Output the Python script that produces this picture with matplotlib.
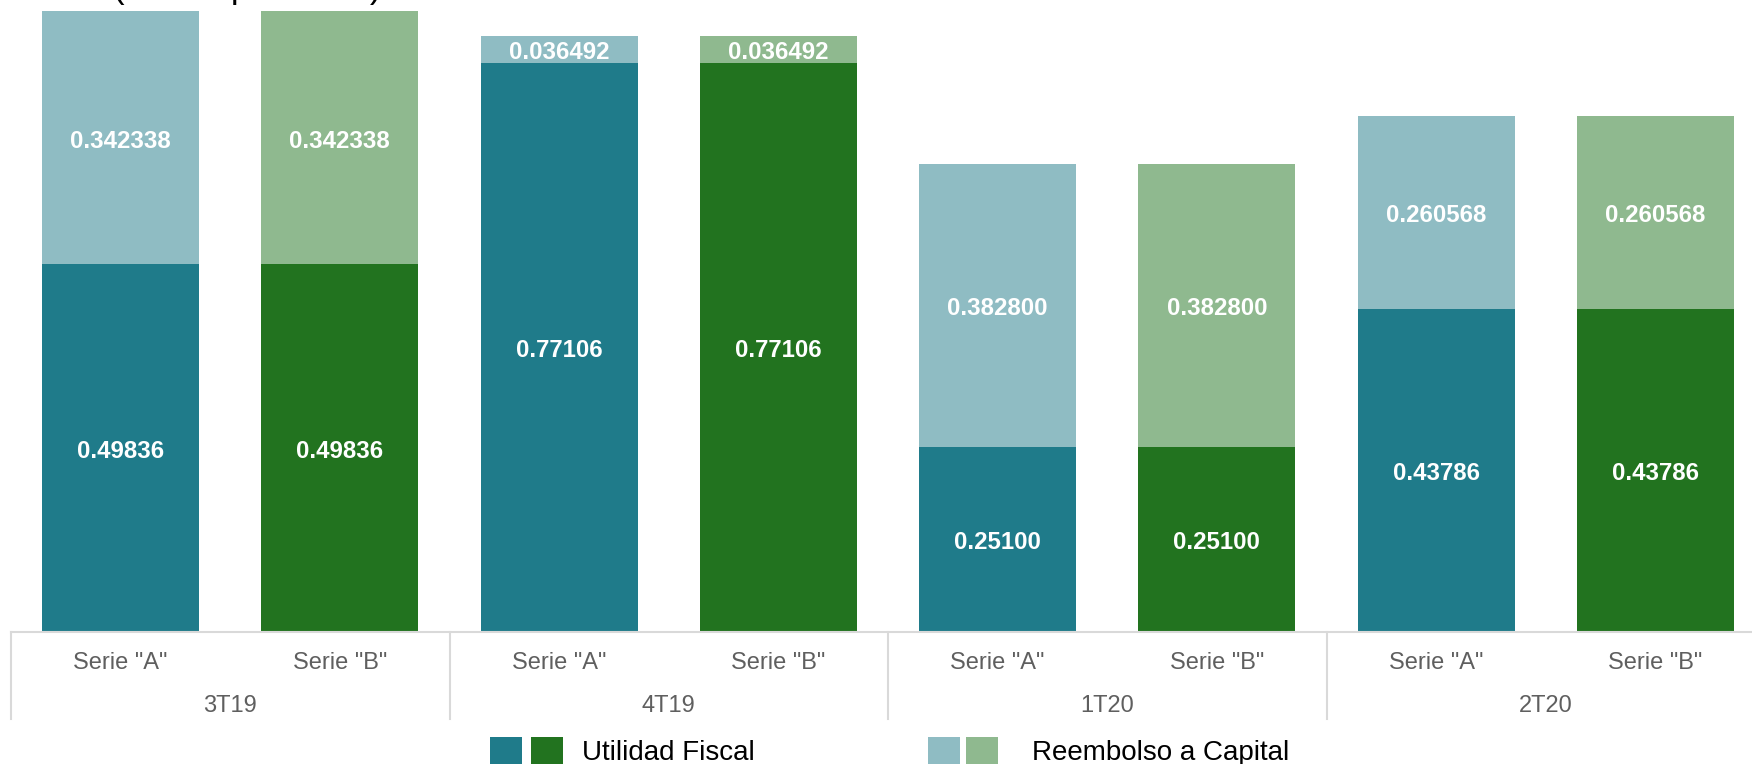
import matplotlib
matplotlib.use("Agg")
from matplotlib import pyplot as plt
from matplotlib.patches import Rectangle
import matplotlib.transforms as mtransforms
import numpy as np

plt.rcParams['font.family'] = ['Liberation Sans', 'DejaVu Sans']

# data
periods = ["3T19", "4T19", "1T20", "2T20"]
series = ['Serie "A"', 'Serie "B"']
utilidad = [0.49836, 0.77106, 0.25100, 0.43786]
reembolso = [0.342338, 0.036492, 0.382800, 0.260568]
utilidad_labels = ["0.49836", "0.77106", "0.25100", "0.43786"]
reembolso_labels = ["0.342338", "0.036492", "0.382800", "0.260568"]

dark_colors = ["#1F7B8A", "#22731F"]
light_colors = ["#8FBCC3", "#8FB98F"]

W, H = 1752, 764
fig = plt.figure(figsize=(W / 100, H / 100), dpi=100)

# axes placed in pixels: baseline at y=632, left edge x=11, 219.25 px per bar slot
ax = fig.add_axes([11 / W, (H - 632) / H, 1754 / W, 632 / H])
ax.set_xlim(-0.5, 7.5)
ax.set_ylim(0, 632 / 738.5)

# labels sit a few pixels below the segment middle
label_shift = mtransforms.offset_copy(ax.transData, fig=fig, x=0, y=-3.5, units='dots')

bar_w = 0.716
for g in range(len(periods)):
    for s in range(len(series)):
        x = g * 2 + s
        u = utilidad[g]
        r = reembolso[g]
        ax.bar(x, u, width=bar_w, color=dark_colors[s], linewidth=0)
        ax.bar(x, r, bottom=u, width=bar_w, color=light_colors[s], linewidth=0)
        ax.text(x, u / 2, utilidad_labels[g], ha='center', va='center',
                color='white', fontsize=17.3, fontweight='bold', transform=label_shift)
        ax.text(x, u + r / 2, reembolso_labels[g], ha='center', va='center',
                color='white', fontsize=17.3, fontweight='bold', transform=label_shift)

for side in ['top', 'right', 'left', 'bottom']:
    ax.spines[side].set_visible(False)
ax.set_xticks([])
ax.set_yticks([])

# category axis drawn by hand (two levels)
trans = mtransforms.blended_transform_factory(ax.transData, ax.transAxes)
ax.plot([-0.5, 7.5], [0, 0], transform=trans, color='#D9D9D9', lw=1.5, clip_on=False)
for xb in [-0.5, 1.5, 3.5, 5.5]:
    ax.plot([xb, xb], [0, -0.137], transform=trans, color='#D9D9D9', lw=1.5, clip_on=False)

for g, p in enumerate(periods):
    for s, name in enumerate(series):
        ax.text(g * 2 + s, -0.0495, name, transform=trans, ha='center', va='center',
                color='#5F5F5F', fontsize=17)
    ax.text(g * 2 + 0.5, -0.1175, p, transform=trans, ha='center', va='center',
            color='#5F5F5F', fontsize=17)

# legend at bottom
def square(x0, color):
    fig.patches.append(Rectangle((x0 / W, (H - 769) / H), 32 / W, 32 / H,
                                 transform=fig.transFigure, color=color, lw=0))

square(490, dark_colors[0])
square(531, dark_colors[1])
fig.text(582 / W, (H - 760) / H, "Utilidad Fiscal", fontsize=20, color='black', va='baseline')
square(928, light_colors[0])
square(966, light_colors[1])
fig.text(1032 / W, (H - 760) / H, "Reembolso a Capital", fontsize=20, color='black', va='baseline')

# title, mostly cut off at the top edge (as in the source image)
fig.text(113 / W, (H + 2) / H, "(Pesos por CBFI)", fontsize=25, color='black', va='baseline')

fig.savefig("out.png", dpi=100)
